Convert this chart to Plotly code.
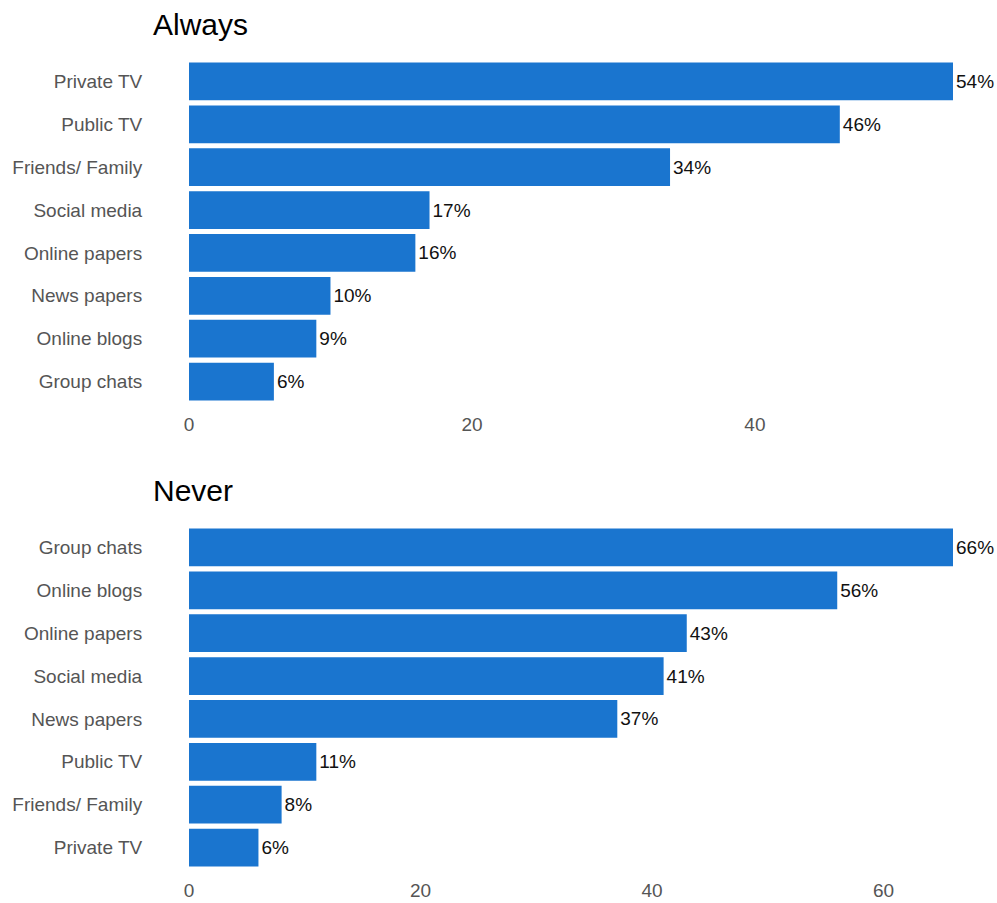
import plotly.graph_objects as go
from plotly.subplots import make_subplots

always_cats = ["Private TV", "Public TV", "Friends/ Family", "Social media",
               "Online papers", "News papers", "Online blogs", "Group chats"]
always_vals = [54, 46, 34, 17, 16, 10, 9, 6]

never_cats = ["Group chats", "Online blogs", "Online papers", "Social media",
              "News papers", "Public TV", "Friends/ Family", "Private TV"]
never_vals = [66, 56, 43, 41, 37, 11, 8, 6]

bar_color = "#1a75cf"
font_family = "Arial, Liberation Sans, sans-serif"
fs = 19

fig = make_subplots(rows=2, cols=1)

fig.add_trace(go.Bar(
    x=always_vals, y=always_cats, orientation="h",
    marker=dict(color=bar_color, line=dict(width=0)),
    text=[f"{v}%" for v in always_vals], textposition="outside",
    textfont=dict(color="#111111", size=fs, family=font_family),
    cliponaxis=False, hoverinfo="x+y"), row=1, col=1)

fig.add_trace(go.Bar(
    x=never_vals, y=never_cats, orientation="h",
    marker=dict(color=bar_color, line=dict(width=0)),
    text=[f"{v}%" for v in never_vals], textposition="outside",
    textfont=dict(color="#111111", size=fs, family=font_family),
    cliponaxis=False, hoverinfo="x+y"), row=2, col=1)

axis_font = dict(size=fs, color="#555555", family=font_family)

xcommon = dict(showgrid=False, zeroline=False, tickfont=axis_font, showline=False,
               ticks="outside", ticklen=4, tickcolor="rgba(0,0,0,0)", automargin=False)
ycommon = dict(autorange="reversed", showgrid=False, zeroline=False, automargin=False,
               tickfont=axis_font, ticks="outside", ticklen=42, tickcolor="rgba(0,0,0,0)")

fig.update_layout(
    width=997, height=903,
    margin=dict(l=189, r=44, t=60, b=34, autoexpand=False),
    paper_bgcolor="white", plot_bgcolor="white",
    showlegend=False, bargap=0.12,
    font=dict(family=font_family),
    xaxis=dict(domain=[0, 1], range=[0, 54], tickvals=[0, 20, 40], **xcommon),
    yaxis=dict(domain=[0.576, 1], **ycommon),
    xaxis2=dict(domain=[0, 1], range=[0, 66], tickvals=[0, 20, 40, 60], **xcommon),
    yaxis2=dict(domain=[0, 0.424], **ycommon),
    annotations=[
        dict(text="Always", xref="paper", yref="paper", x=-0.0497, y=1.0,
             xanchor="left", yanchor="middle", yshift=36, showarrow=False,
             font=dict(size=30, color="#000000", family=font_family)),
        dict(text="Never", xref="paper", yref="paper", x=-0.0497, y=0.424,
             xanchor="left", yanchor="middle", yshift=35, showarrow=False,
             font=dict(size=30, color="#000000", family=font_family)),
    ],
)

fig.write_html("out.html", config={"displayModeBar": False},
               post_script="document.body.style.margin='0';document.body.style.overflow='hidden';")
